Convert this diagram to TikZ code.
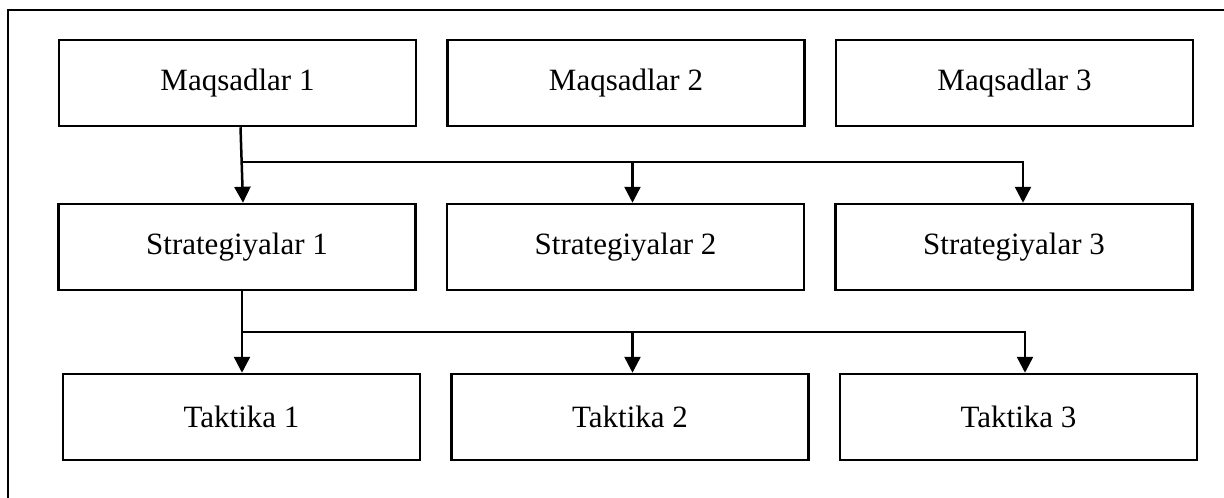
\documentclass[tikz,border=0pt]{standalone}
\usepackage{fontspec}
\setmainfont{Liberation Serif}
\usetikzlibrary{arrows.meta, positioning}

\begin{document}
\begin{tikzpicture}[
    x=1pt, y=-1pt,
    line width=2.5pt,
    node distance=29pt,
    box/.style={draw, minimum width=357pt, minimum height=86pt, inner sep=0pt,
        font=\fontsize{31}{37}\selectfont},
    arr/.style={-{Triangle[length=16pt, width=16pt]}},
]
    \clip (0,0) rectangle (1224,498);
    % outer frame
    \draw (8,10) rectangle (1240,520);

    % Maqsadlar
    \node[box] (m1) at (237.5,83) {Maqsadlar 1};
    \node[box, right=of m1] (m2) {Maqsadlar 2};
    \node[box, right=of m2] (m3) {Maqsadlar 3};

    % Strategiyalar
    \node[box] (s1) at (237,247) {Strategiyalar 1};
    \node[box, right=of s1] (s2) {Strategiyalar 2};
    \node[box, right=of s2] (s3) {Strategiyalar 3};

    % Taktika
    \node[box] (t1) at (241.5,417) {Taktika 1};
    \node[box, right=of t1] (t2) {Taktika 2};
    \node[box, right=of t2] (t3) {Taktika 3};

    % Maqsadlar -> Strategiyalar
    \coordinate (j1) at (243,162);
    \draw[arr] ([xshift=3pt]m1.south) -- ([xshift=6pt]s1.north);
    \draw[arr] (j1) -| ([xshift=9pt]s3.north);
    \draw[arr] ([xshift=7pt]s2.north |- j1) -- ([xshift=7pt]s2.north);

    % Strategiyalar -> Taktika
    \coordinate (j2) at (243,332);
    \draw[arr] ([xshift=5pt]s1.south) -- ([xshift=5pt]s1.south |- t1.north);
    \draw[arr] (j2) -| ([xshift=6.5pt]t3.north);
    \draw[arr] ([xshift=2.5pt]t2.north |- j2) -- ([xshift=2.5pt]t2.north);
\end{tikzpicture}
\end{document}
